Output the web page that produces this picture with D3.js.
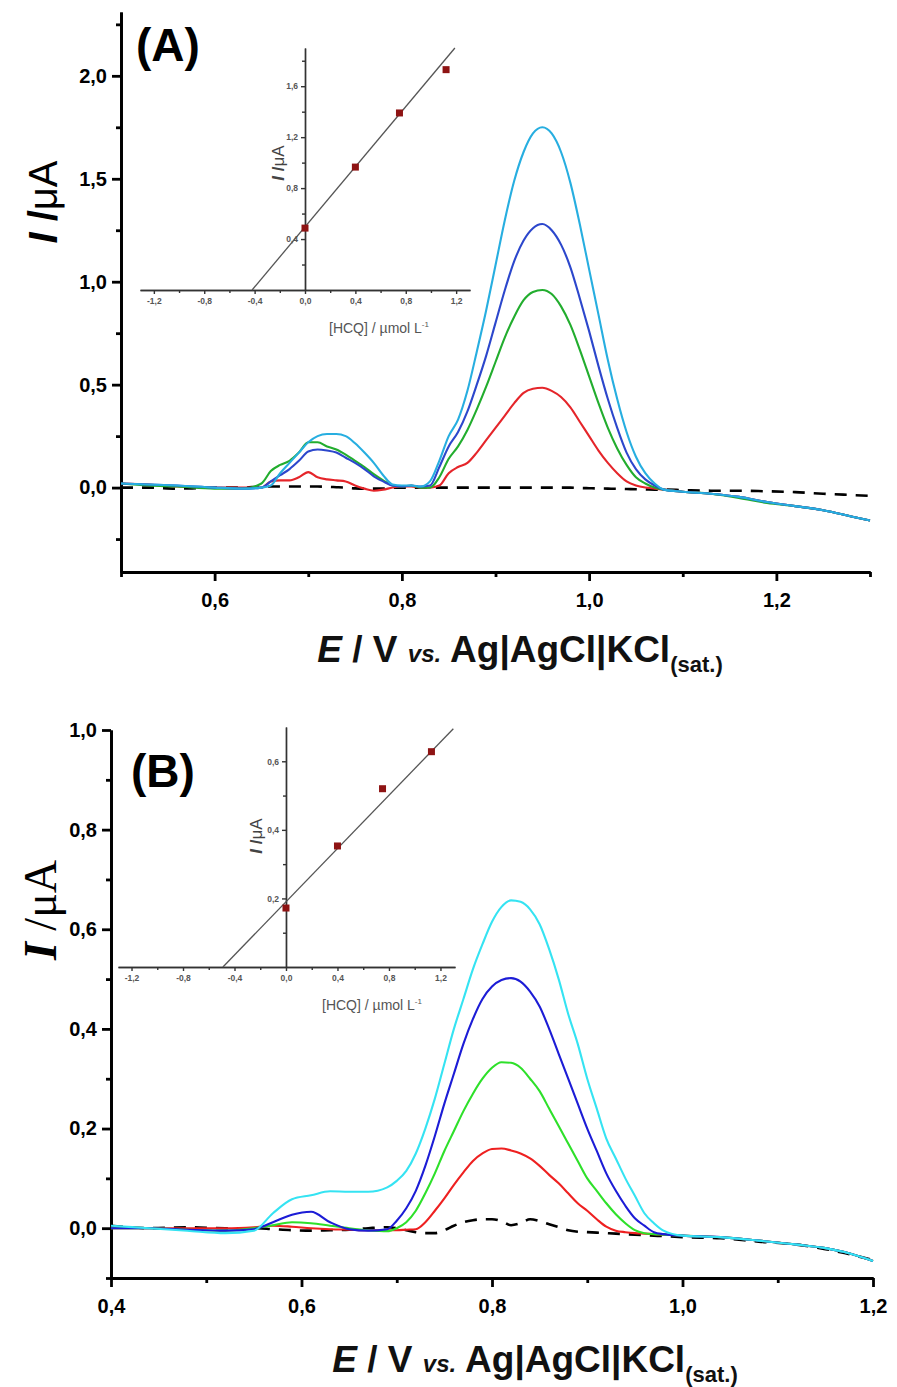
<!DOCTYPE html>
<html>
<head>
<meta charset="utf-8">
<script src="https://cdn.jsdelivr.net/npm/d3@7"></script>
<style>
  body { margin: 0; background: #fff; }
  svg { display: block; font-family: Arial, 'Liberation Sans', sans-serif; }
  .main .tick text { font-size: 20px; font-weight: bold; fill: #000; }
  .main .domain, .main .tick line { stroke: #000; stroke-width: 2.8; }
  .inset .tick text { font-size: 8.5px; font-weight: bold; fill: #555; }
  .inset .domain, .inset .tick line { stroke: #333; stroke-width: 1.4; }
  .curve { fill: none; stroke-width: 2.1; stroke-linejoin: round; }
  .blank { fill: none; stroke: #000; stroke-width: 2.6; stroke-dasharray: 12 9; }
</style>
</head>
<body>
<svg width="897" height="1387"></svg>
<script>
// ---------- panel A : DPV, E / V ----------
const eA = [0.50, 0.53, 0.56, 0.60, 0.63, 0.65,
  0.66, 0.67, 0.68, 0.69, 0.70, 0.71, 0.72, 0.73, 0.74, 0.75, 0.76, 0.77, 0.78, 0.79,
  0.80, 0.81, 0.82, 0.83, 0.84, 0.85, 0.86, 0.87, 0.88, 0.89, 0.90, 0.91, 0.92, 0.93,
  0.94, 0.95, 0.96, 0.97, 0.98, 0.99, 1.00, 1.01, 1.02, 1.03, 1.04, 1.05, 1.06, 1.07,
  1.08, 1.10, 1.13, 1.16, 1.19, 1.22, 1.25, 1.28, 1.30];
const blankA = [0.0, 0.0, -0.005, 0.0, 0.0, 0.005,
  0.005, 0.005, 0.005, 0.005, 0.005, 0.005, 0.004, 0.002, 0.0, -0.004, -0.005, -0.005, -0.005, 0.0,
  0.0, 0.0, 0.0, 0.0, 0.0, 0.0, 0.0, 0.0, 0.0, 0.0, 0.0, 0.0, 0.0, 0.0,
  0.0, 0.0, 0.0, 0.0, 0.0, -0.002, -0.003, -0.004, -0.005, -0.006, -0.007, -0.008, -0.009, -0.01,
  -0.01, -0.012, -0.015, -0.015, -0.018, -0.022, -0.03, -0.036, -0.04];
const redA = [0.02, 0.015, 0.005, 0.0, 0.0, 0.0,
  0.03, 0.035, 0.035, 0.05, 0.075, 0.05, 0.04, 0.035, 0.03, 0.01, -0.005, -0.015, -0.01, 0.0,
  0.005, 0.005, 0.0, 0.0, 0.01, 0.07, 0.10, 0.12, 0.17, 0.23, 0.29, 0.35, 0.41, 0.46,
  0.48, 0.485, 0.47, 0.44, 0.39, 0.32, 0.25, 0.18, 0.12, 0.07, 0.03, 0.01, 0.0, -0.005,
  -0.01, -0.02, -0.03, -0.045, -0.07, -0.09, -0.11, -0.14, -0.16];
const greenA = [0.02, 0.01, 0.005, -0.005, -0.005, 0.02,
  0.08, 0.11, 0.13, 0.17, 0.22, 0.22, 0.20, 0.185, 0.16, 0.13, 0.10, 0.065, 0.035, 0.01,
  0.005, 0.01, 0.0, 0.0, 0.05, 0.14, 0.20, 0.28, 0.38, 0.49, 0.61, 0.73, 0.83, 0.91,
  0.95, 0.96, 0.94, 0.88, 0.79, 0.67, 0.54, 0.41, 0.29, 0.19, 0.11, 0.05, 0.02, 0.0,
  -0.01, -0.02, -0.03, -0.05, -0.075, -0.09, -0.11, -0.14, -0.16];
const blueA = [0.02, 0.015, 0.01, 0.0, -0.005, 0.0,
  0.03, 0.06, 0.09, 0.13, 0.175, 0.185, 0.18, 0.17, 0.145, 0.12, 0.09, 0.055, 0.03, 0.01,
  0.005, 0.01, 0.005, 0.01, 0.10, 0.20, 0.27, 0.37, 0.50, 0.64, 0.80, 0.96, 1.10, 1.20,
  1.26, 1.28, 1.25, 1.18, 1.07, 0.92, 0.76, 0.59, 0.43, 0.29, 0.17, 0.09, 0.04, 0.01,
  -0.01, -0.02, -0.03, -0.045, -0.07, -0.09, -0.11, -0.14, -0.16];
const cyanA = [0.02, 0.015, 0.01, 0.0, -0.005, 0.0,
  0.01, 0.07, 0.12, 0.17, 0.22, 0.25, 0.26, 0.26, 0.25, 0.215, 0.17, 0.12, 0.06, 0.015,
  0.01, 0.01, 0.005, 0.03, 0.13, 0.25, 0.33, 0.47, 0.66, 0.86, 1.08, 1.30, 1.49, 1.63,
  1.72, 1.75, 1.72, 1.63, 1.48, 1.28, 1.06, 0.84, 0.62, 0.43, 0.27, 0.15, 0.07, 0.02,
  -0.01, -0.02, -0.03, -0.045, -0.07, -0.09, -0.11, -0.14, -0.16];

// inset A : calibration
const concA = [0, 0.4, 0.75, 1.12];
const peakA = [0.486, 0.965, 1.39, 1.73];
const fitXA = [-0.42, 1.19];
const fitYA = [0, 1.90];

// ---------- panel B ----------
const eB = [0.40, 0.44, 0.48, 0.52, 0.55, 0.57, 0.59, 0.61, 0.63, 0.65, 0.67, 0.69,
  0.70, 0.71, 0.72, 0.73, 0.74, 0.75, 0.76, 0.77, 0.78, 0.79, 0.80, 0.81, 0.82, 0.83,
  0.84, 0.85, 0.86, 0.87, 0.88, 0.89, 0.90, 0.91, 0.92, 0.93, 0.94, 0.95, 0.96, 0.97,
  0.98, 1.00, 1.04, 1.08, 1.12, 1.15, 1.17, 1.20];
const blankB = [0.005, 0.0, 0.002, 0.0, 0.0, -0.002, -0.004, -0.005, -0.004, -0.003, 0.0, 0.002,
  0.0, -0.004, -0.008, -0.01, -0.01, -0.004, 0.005, 0.012, 0.016, 0.018, 0.018, 0.014, 0.006, 0.01,
  0.018, 0.014, 0.008, 0.002, -0.004, -0.007, -0.008, -0.009, -0.01, -0.011, -0.012, -0.013, -0.014, -0.015,
  -0.016, -0.018, -0.02, -0.027, -0.033, -0.042, -0.05, -0.064];
const redB = [0.0, 0.0, 0.0, 0.0, 0.002, 0.005, 0.003, 0.0, -0.002, -0.003, -0.004, -0.004,
  -0.004, -0.003, -0.002, 0.012, 0.035, 0.06, 0.087, 0.112, 0.135, 0.15, 0.159, 0.16, 0.156, 0.15,
  0.14, 0.125, 0.107, 0.09, 0.07, 0.05, 0.035, 0.018, 0.003, -0.005, -0.008, -0.01, -0.011, -0.012,
  -0.013, -0.015, -0.018, -0.025, -0.033, -0.04, -0.048, -0.066];
const greenB = [0.0, 0.0, -0.003, -0.005, 0.0, 0.006, 0.012, 0.01, 0.005, 0.0, -0.004, -0.006,
  0.0, 0.012, 0.035, 0.07, 0.11, 0.155, 0.195, 0.235, 0.27, 0.30, 0.322, 0.333, 0.332, 0.322,
  0.30, 0.275, 0.24, 0.205, 0.17, 0.135, 0.10, 0.075, 0.05, 0.028, 0.01, -0.004, -0.01, -0.012,
  -0.013, -0.015, -0.018, -0.025, -0.033, -0.04, -0.048, -0.066];
const blueB = [0.0, 0.0, -0.003, -0.005, -0.002, 0.012, 0.027, 0.033, 0.012, -0.002, -0.005, -0.002,
  0.015, 0.04, 0.075, 0.125, 0.185, 0.25, 0.31, 0.37, 0.42, 0.46, 0.485, 0.498, 0.502, 0.495,
  0.475, 0.445, 0.40, 0.35, 0.30, 0.25, 0.20, 0.155, 0.11, 0.075, 0.045, 0.02, 0.005, -0.008,
  -0.012, -0.015, -0.018, -0.025, -0.033, -0.04, -0.048, -0.066];
const cyanB = [0.005, 0.0, -0.005, -0.01, -0.005, 0.03, 0.058, 0.066, 0.074, 0.073, 0.073, 0.082,
  0.095, 0.115, 0.15, 0.20, 0.26, 0.33, 0.40, 0.46, 0.52, 0.57, 0.615, 0.645, 0.658, 0.655,
  0.64, 0.61, 0.56, 0.50, 0.43, 0.37, 0.30, 0.24, 0.18, 0.14, 0.10, 0.065, 0.03, 0.01,
  -0.005, -0.015, -0.018, -0.025, -0.033, -0.04, -0.048, -0.066];

// inset B
const concB = [0, 0.4, 0.75, 1.13];
const peakB = [0.172, 0.353, 0.52, 0.628];
const fitXB = [-0.49, 1.30];
const fitYB = [0, 0.695];

// tick values
const yTicksA = [0, 0.5, 1.0, 1.5, 2.0];
const yMinorA = [-0.25, 0.25, 0.75, 1.25, 1.75, 2.25];
const xTicksA = [0.6, 0.8, 1.0, 1.2];
const xMinorA = [0.5, 0.7, 0.9, 1.1, 1.3];
const yTicksB = [0, 0.2, 0.4, 0.6, 0.8, 1.0];
const yMinorB = [-0.1, 0.1, 0.3, 0.5, 0.7, 0.9];
const xTicksB = [0.4, 0.6, 0.8, 1.0, 1.2];
const xMinorB = [0.5, 0.7, 0.9, 1.1];
const insetX = [-1.2, -0.8, -0.4, 0, 0.4, 0.8, 1.2];
const insetXMinor = [-1.0, -0.6, -0.2, 0.2, 0.6, 1.0];
const insetYA = [0.4, 0.8, 1.2, 1.6];
const insetYMinorA = [0.2, 0.6, 1.0, 1.4, 1.8];
const insetYB = [0.2, 0.4, 0.6];
const insetYMinorB = [0.1, 0.3, 0.5];

const fmt = (d) => d.toFixed(1).replace('.', ',');

const svg = d3.select('svg');

function zip(xs, ys) { return xs.map((x, i) => [x, ys[i]]); }

function mainPanel(o) {
  const x = d3.scaleLinear().domain(o.xDom).range(o.xRange);
  const y = d3.scaleLinear().domain(o.yDom).range(o.yRange);
  const g = svg.append('g').attr('class', 'main');

  g.append('g')
    .attr('transform', `translate(0, ${o.yRange[0]})`)
    .call(d3.axisBottom(x).tickValues(o.xMinor).tickSize(5).tickFormat('').tickSizeOuter(0));
  g.append('g')
    .attr('transform', `translate(0, ${o.yRange[0]})`)
    .call(d3.axisBottom(x).tickValues(o.xTicks).tickSize(9).tickPadding(12).tickFormat(fmt).tickSizeOuter(0));
  g.append('g')
    .attr('transform', `translate(${o.xRange[0]}, 0)`)
    .call(d3.axisLeft(y).tickValues(o.yMinor).tickSize(5).tickFormat('').tickSizeOuter(0));
  g.append('g')
    .attr('transform', `translate(${o.xRange[0]}, 0)`)
    .call(d3.axisLeft(y).tickValues(o.yTicks).tickSize(9).tickPadding(5).tickFormat(fmt).tickSizeOuter(0));

  const line = d3.line()
    .x((d) => x(d[0]))
    .y((d) => y(d[1]))
    .curve(d3.curveMonotoneX);

  g.append('path').attr('class', 'blank').attr('d', line(zip(o.e, o.blank)));
  o.series.forEach((s) => {
    g.append('path')
      .attr('class', 'curve')
      .attr('stroke', s.color)
      .attr('d', line(zip(o.e, s.values)));
  });
  return g;
}

function inset(o) {
  const x = d3.scaleLinear().domain(o.xDom).range(o.xRange);
  const y = d3.scaleLinear().domain(o.yDom).range(o.yRange);
  const g = svg.append('g').attr('class', 'inset');

  g.append('g')
    .attr('transform', `translate(0, ${y(0)})`)
    .call(d3.axisBottom(x).tickValues(insetXMinor).tickSize(3).tickFormat('').tickSizeOuter(0));
  g.append('g')
    .attr('transform', `translate(0, ${y(0)})`)
    .call(d3.axisBottom(x).tickValues(insetX).tickSize(4).tickPadding(4).tickFormat(fmt).tickSizeOuter(0));
  g.append('g')
    .attr('transform', `translate(${x(0)}, 0)`)
    .call(d3.axisLeft(y).tickValues(o.yMinor).tickSize(3).tickFormat('').tickSizeOuter(0));
  g.append('g')
    .attr('transform', `translate(${x(0)}, 0)`)
    .call(d3.axisLeft(y).tickValues(o.yTicks).tickSize(4).tickPadding(3).tickFormat(fmt).tickSizeOuter(0));

  g.append('line')
    .attr('x1', x(o.fitX[0])).attr('y1', y(o.fitY[0]))
    .attr('x2', x(o.fitX[1])).attr('y2', y(o.fitY[1]))
    .attr('stroke', '#555').attr('stroke-width', 1.3);

  g.selectAll('rect.pt')
    .data(zip(o.conc, o.peak))
    .enter()
    .append('rect')
    .attr('class', 'pt')
    .attr('x', (d) => x(d[0]) - 3.5)
    .attr('y', (d) => y(d[1]) - 3.5)
    .attr('width', 7)
    .attr('height', 7)
    .attr('fill', '#8e1313');

  const yl = g.append('text')
    .attr('transform', `translate(${o.yLab[0]}, ${o.yLab[1]}) rotate(-90)`)
    .attr('text-anchor', 'middle')
    .attr('font-size', 17)
    .attr('font-weight', 'bold')
    .attr('fill', '#444');
  yl.append('tspan').attr('font-style', 'italic').text('I');
  yl.append('tspan').text(' /');
  yl.append('tspan').attr('font-weight', 'normal').text('μA');

  const xl = g.append('text')
    .attr('x', o.xLab[0])
    .attr('y', o.xLab[1])
    .attr('font-size', 14)
    .attr('fill', '#555');
  xl.append('tspan').text('[HCQ] / µmol L');
  xl.append('tspan').attr('font-size', 8).attr('dy', -6).text('-1');
}

function xTitle(cx, cy) {
  const t = svg.append('text')
    .attr('x', cx)
    .attr('y', cy)
    .attr('text-anchor', 'middle')
    .attr('font-size', 37)
    .attr('font-weight', 'bold')
    .attr('fill', '#111');
  t.append('tspan').attr('font-style', 'italic').text('E');
  t.append('tspan').text(' / V ');
  t.append('tspan').attr('font-style', 'italic').attr('font-size', 24).text('vs.');
  t.append('tspan').text(' Ag|AgCl|KCl');
  t.append('tspan').attr('font-size', 22).attr('dy', 10).text('(sat.)');
}

// ---- panel A
mainPanel({
  xDom: [0.5, 1.3], xRange: [121, 870],
  yDom: [-0.41, 2.31], yRange: [572, 12],
  xTicks: xTicksA, xMinor: xMinorA, yTicks: yTicksA, yMinor: yMinorA,
  e: eA, blank: blankA,
  series: [
    { color: '#e5252a', values: redA },
    { color: '#22ad2e', values: greenA },
    { color: '#2c47cc', values: blueA },
    { color: '#27aee0', values: cyanA }
  ]
});

inset({
  xDom: [-1.31, 1.31], xRange: [140, 470],
  yDom: [0, 1.9], yRange: [290, 48],
  yTicks: insetYA, yMinor: insetYMinorA,
  conc: concA, peak: peakA, fitX: fitXA, fitY: fitYA,
  yLab: [284, 163], xLab: [329, 333]
});

svg.append('text')
  .attr('x', 136).attr('y', 61)
  .attr('font-size', 46).attr('font-weight', 'bold')
  .text('(A)');

const ytA = svg.append('text')
  .attr('transform', 'translate(57, 202) rotate(-90)')
  .attr('text-anchor', 'middle')
  .attr('font-size', 40)
  .attr('font-weight', 'bold');
ytA.append('tspan').attr('font-style', 'italic').text('I');
ytA.append('tspan').text(' /');
ytA.append('tspan').attr('font-weight', 'normal').text('μA');

xTitle(520, 662);

// ---- panel B
mainPanel({
  xDom: [0.4, 1.2], xRange: [111, 873],
  yDom: [-0.1, 1.0], yRange: [1278, 730],
  xTicks: xTicksB, xMinor: xMinorB, yTicks: yTicksB, yMinor: yMinorB,
  e: eB, blank: blankB,
  series: [
    { color: '#ee2020', values: redB },
    { color: '#2ee02a', values: greenB },
    { color: '#1c1cd6', values: blueB },
    { color: '#35e3f2', values: cyanB }
  ]
});

inset({
  xDom: [-1.305, 1.313], xRange: [118, 455],
  yDom: [0, 0.70], yRange: [967, 727],
  yTicks: insetYB, yMinor: insetYMinorB,
  conc: concB, peak: peakB, fitX: fitXB, fitY: fitYB,
  yLab: [262, 836], xLab: [322, 1010]
});

svg.append('text')
  .attr('x', 131).attr('y', 787)
  .attr('font-size', 46).attr('font-weight', 'bold')
  .text('(B)');

const ytB = svg.append('text')
  .attr('transform', 'translate(56, 910) rotate(-90)')
  .attr('text-anchor', 'middle')
  .attr('font-size', 46)
  .attr('font-family', "'Liberation Serif', 'Times New Roman', serif");
ytB.append('tspan').attr('font-style', 'italic').attr('font-weight', 'bold').text('I');
ytB.append('tspan').text(' /');
ytB.append('tspan').text('μA');

xTitle(535, 1372);
</script>
</body>
</html>
